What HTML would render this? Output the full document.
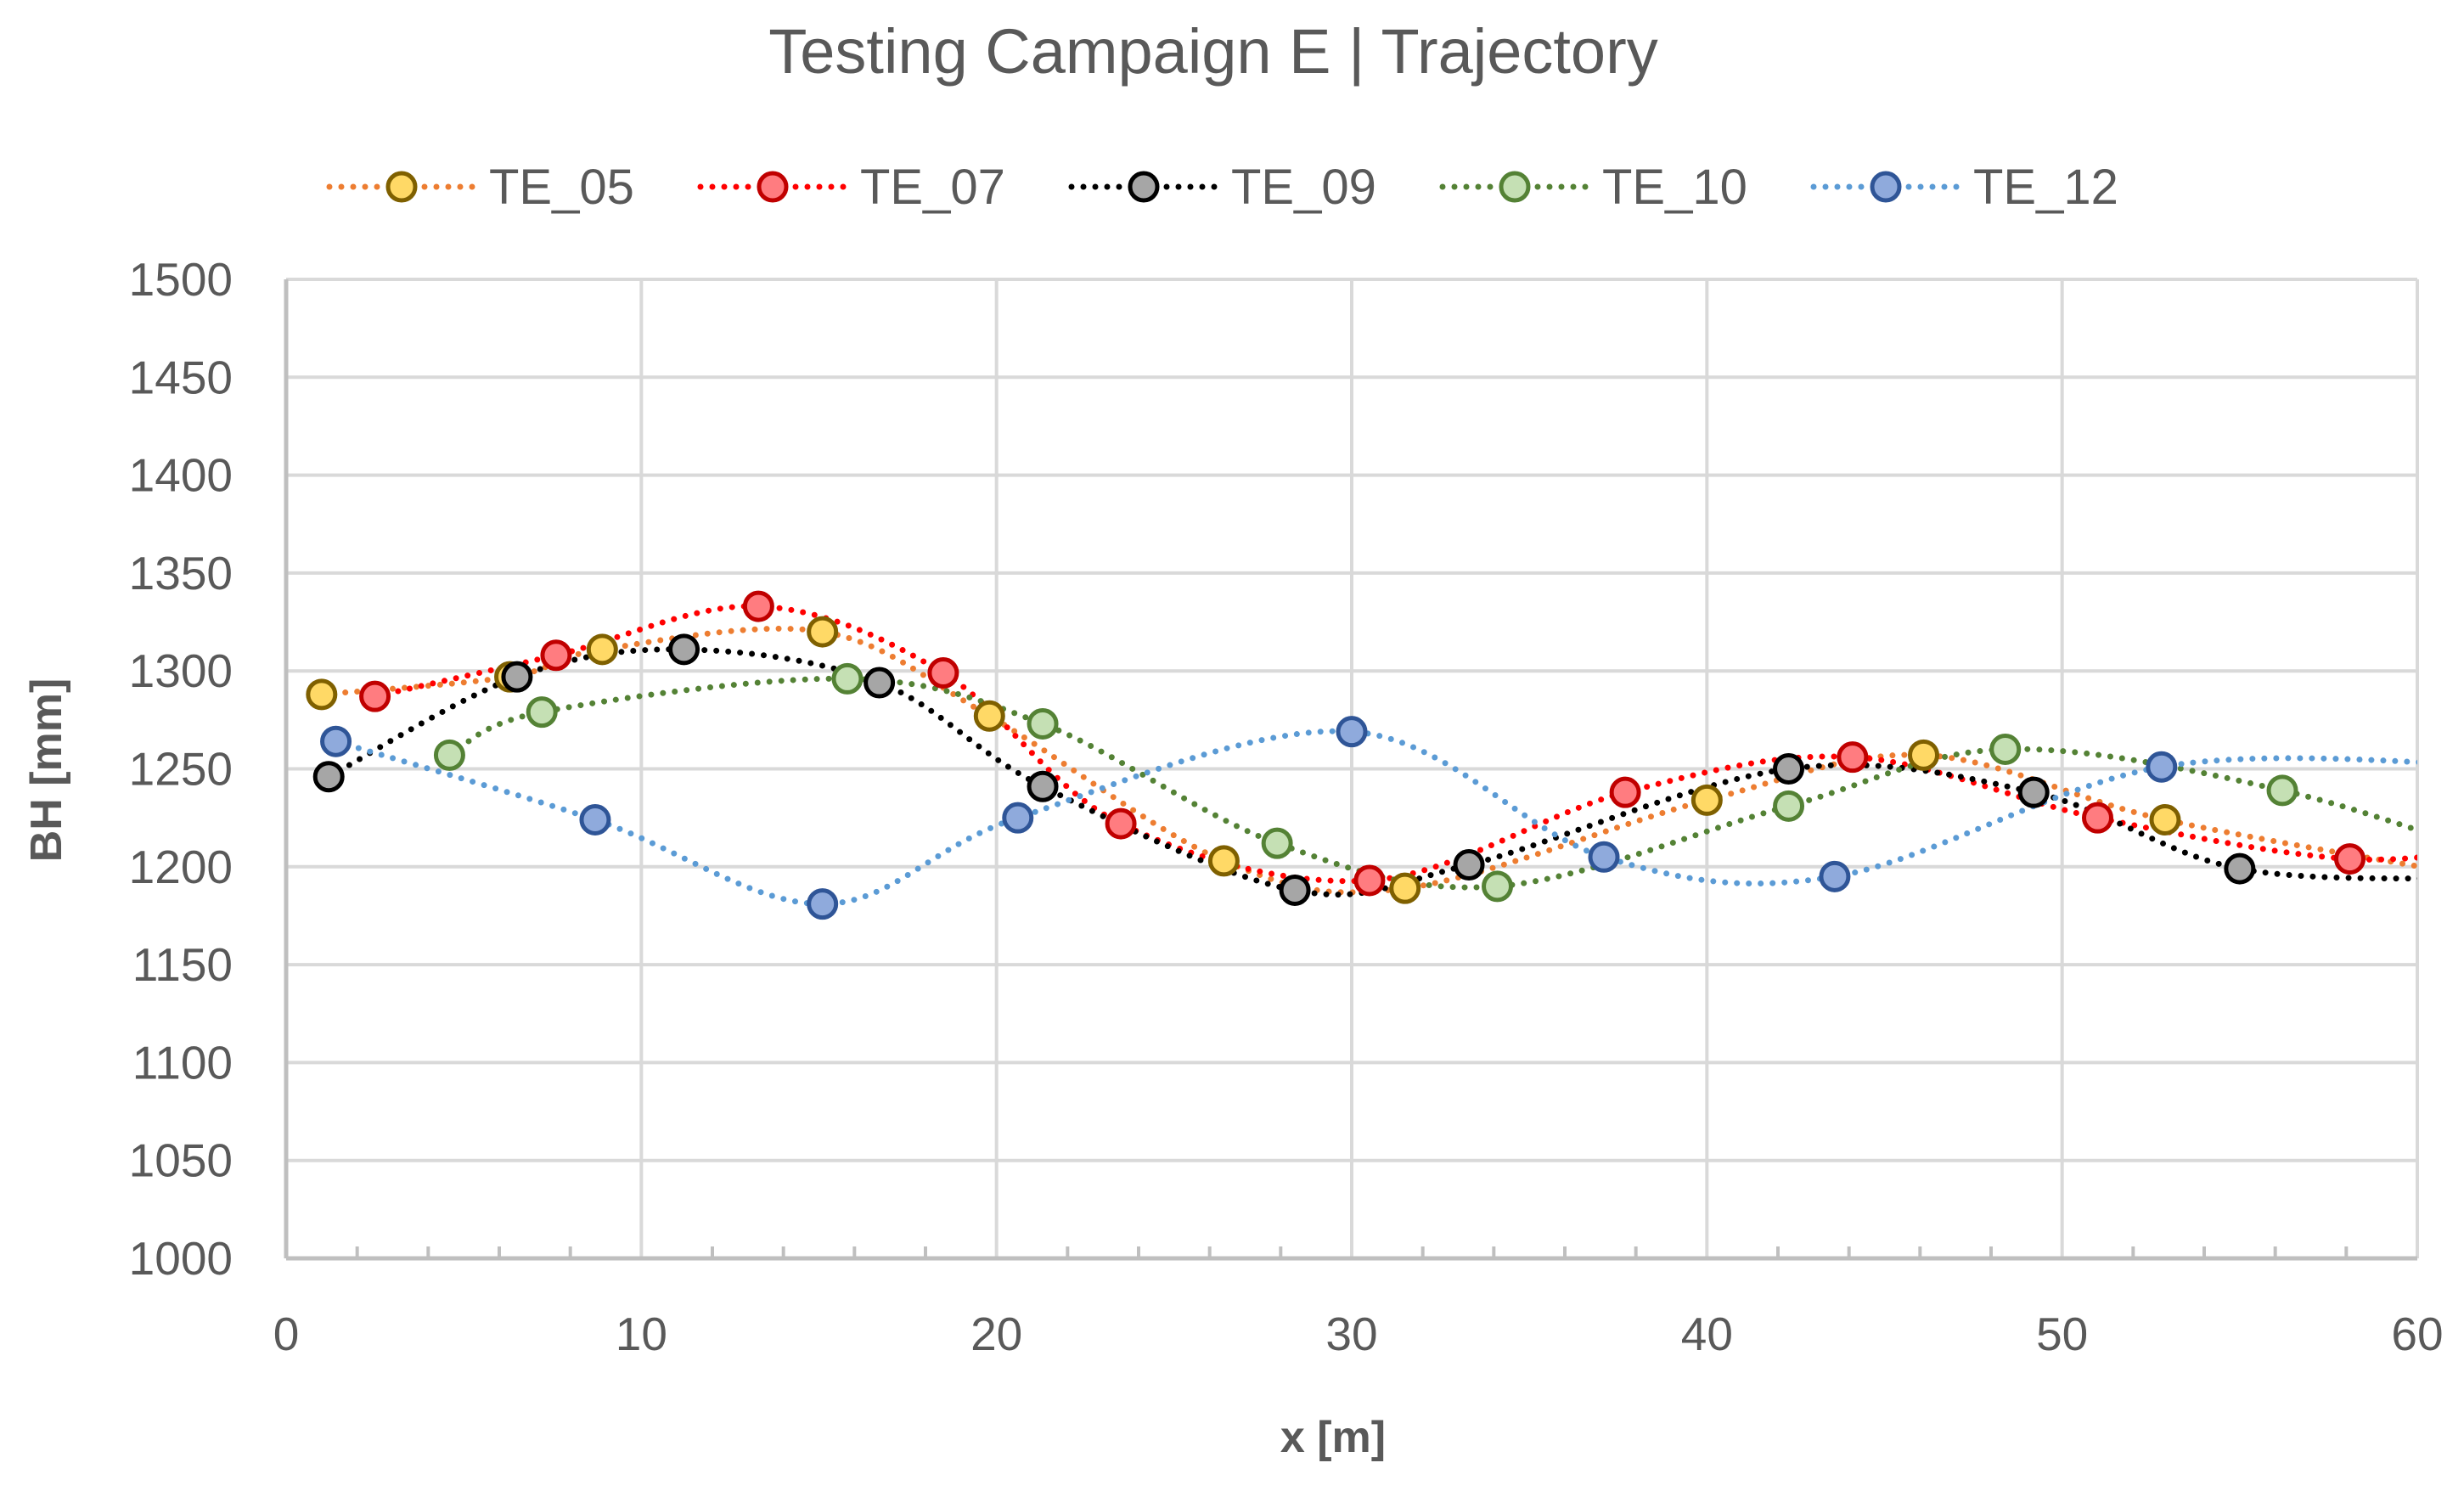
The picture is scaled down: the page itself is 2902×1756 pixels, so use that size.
<!DOCTYPE html>
<html><head><meta charset="utf-8"><style>
html,body{margin:0;padding:0;background:#fff;}
svg{display:block;font-family:"Liberation Sans",sans-serif;}
</style></head><body>
<svg id="chart" width="2902" height="1756" viewBox="0 0 2902 1756" xmlns="http://www.w3.org/2000/svg">
<defs><clipPath id="plotclip"><rect x="337" y="300" width="2510" height="1183"/></clipPath></defs>
<text x="1429" y="86" text-anchor="middle" font-size="74" fill="#595959">Testing Campaign E | Trajectory</text>
<g id="grid"></g>
<g id="axes"></g>
<g id="series" clip-path="url(#plotclip)"></g>
<g id="markers"></g>
<g id="legend"></g>
<text transform="translate(72,907) rotate(-90)" text-anchor="middle" font-size="52" font-weight="bold" fill="#595959">BH [mm]</text>
<text x="1570" y="1710" text-anchor="middle" font-size="52" font-weight="bold" fill="#595959">x [m]</text>
</svg>
<script>
const seriesNames = ["TE_05","TE_07","TE_09","TE_10","TE_12"];
const te05X = [1,6.3,8.9,15.1,19.8,26.4,31.5,40,46.1,52.9,62];
const te05Y = [1288,1297,1311,1320,1277,1203,1189,1234,1257,1224,1194];
const te07X = [2.5,7.6,13.3,18.5,23.5,30.5,37.7,44.1,51,58.1,63];
const te07Y = [1287,1308,1333,1299,1222,1193,1238,1256,1225,1204,1212];
const te09X = [1.2,6.5,11.2,16.7,21.3,28.4,33.3,42.3,49.2,55,62];
const te09Y = [1246,1297,1311,1294,1241,1188,1201,1250,1238,1199,1194];
const te10X = [4.6,7.2,15.8,21.3,27.9,34.1,42.3,48.4,56.2,63];
const te10Y = [1257,1279,1296,1273,1212,1190,1231,1260,1239,1200];
const te12X = [1.4,8.7,15.1,20.6,30,37.1,43.6,52.8,62];
const te12Y = [1264,1224,1181,1225,1269,1205,1195,1251,1252];
const xTicks = [0,10,20,30,40,50,60];
const yTicks = [1000,1050,1100,1150,1200,1250,1300,1350,1400,1450,1500];
const lastVisible = [10,10,10,9,8];

const X0=337,X1=2847,Y0=1482,Y1=329;
const xs = v => X0 + (v-0)/(60-0)*(X1-X0);
const ys = v => Y0 - (v-1000)/(1500-1000)*(Y0-Y1);
const NS="http://www.w3.org/2000/svg";
function mk(tag,attrs,parent){const e=document.createElementNS(NS,tag);for(const k in attrs)e.setAttribute(k,attrs[k]);parent.appendChild(e);return e;}
const grid=document.getElementById('grid'),axes=document.getElementById('axes'),ser=document.getElementById('series'),mkg=document.getElementById('markers'),leg=document.getElementById('legend');

yTicks.forEach(t=>{
  if(t>1000){const l=mk('line',{x1:X0,x2:X1,y1:ys(t),y2:ys(t),stroke:'#d9d9d9','stroke-width':4},grid);
  
  }
  const tx=mk('text',{x:274,y:ys(t)+19,'text-anchor':'end','font-size':55,fill:'#595959'},axes);
  tx.textContent=t;
  
  
});
xTicks.forEach(t=>{
  if(t>0){const l=mk('line',{x1:xs(t),x2:xs(t),y1:Y1,y2:Y0,stroke:'#d9d9d9','stroke-width':4},grid);
  
  }
  const tx=mk('text',{x:xs(t),y:1590,'text-anchor':'middle','font-size':55,fill:'#595959'},axes);
  tx.textContent=t;
  
  
});
for(let m=2;m<60;m+=2){if(m%10===0)continue;
  const l=mk('line',{x1:xs(m),x2:xs(m),y1:Y0,y2:Y0-14,stroke:'#bfbfbf','stroke-width':4},axes);
  
  
}
const ya=mk('line',{x1:X0,x2:X0,y1:Y1,y2:Y0,stroke:'#bfbfbf','stroke-width':5},axes);


const xa=mk('line',{x1:X0,x2:X1,y1:Y0,y2:Y0,stroke:'#bfbfbf','stroke-width':5},axes);



const allX=[te05X,te07X,te09X,te10X,te12X], allY=[te05Y,te07Y,te09Y,te10Y,te12Y];
const lineCol=['#ed7d31','#ff0000','#000000','#548235','#5b9bd5'];
const fillCol=['#ffd966','#ff7c80','#a6a6a6','#c5e0b4','#8faadc'];
const strokeCol=['#7f6000','#c00000','#000000','#548235','#2f5597'];

function smooth(px,py){
  let d=`M${px[0]},${py[0]}`;
  for(let i=0;i<px.length-1;i++){
    const p0x=px[Math.max(i-1,0)],p0y=py[Math.max(i-1,0)];
    const p3x=px[Math.min(i+2,px.length-1)],p3y=py[Math.min(i+2,px.length-1)];
    const c1x=px[i]+(px[i+1]-p0x)/6,c1y=py[i]+(py[i+1]-p0y)/6;
    const c2x=px[i+1]-(p3x-px[i])/6,c2y=py[i+1]-(p3y-py[i])/6;
    d+=` C${c1x},${c1y} ${c2x},${c2y} ${px[i+1]},${py[i+1]}`;
  }
  return d;
}
allX.forEach((xa_,k)=>{
  const px=xa_.map(xs),py=allY[k].map(ys);
  const p=mk('path',{d:smooth(px,py),fill:'none',stroke:lineCol[k],'stroke-width':7,'stroke-dasharray':'0 14','stroke-linecap':'round'},ser);
  
  
  xa_.forEach((v,i)=>{
    if(i>lastVisible[k]) return;
    if(v>60) return;
    const c=mk('circle',{cx:xs(v),cy:ys(allY[k][i]),r:16,fill:fillCol[k],stroke:strokeCol[k],'stroke-width':5},mkg);
    
    
  });
});

const legX=[388,825,1262,1699,2136];
seriesNames.forEach((n,k)=>{
  const g=mk('g',{},leg);
  
  
  mk('line',{x1:legX[k],x2:legX[k]+170,y1:220,y2:220,stroke:lineCol[k],'stroke-width':7,'stroke-dasharray':'0 14','stroke-linecap':'round'},g);
  mk('circle',{cx:legX[k]+85,cy:220,r:16,fill:fillCol[k],stroke:strokeCol[k],'stroke-width':5},g);
  const t=mk('text',{x:legX[k]+188,y:240,'font-size':58,fill:'#595959'},g);
  t.textContent=n;
});
</script>
</body></html>
